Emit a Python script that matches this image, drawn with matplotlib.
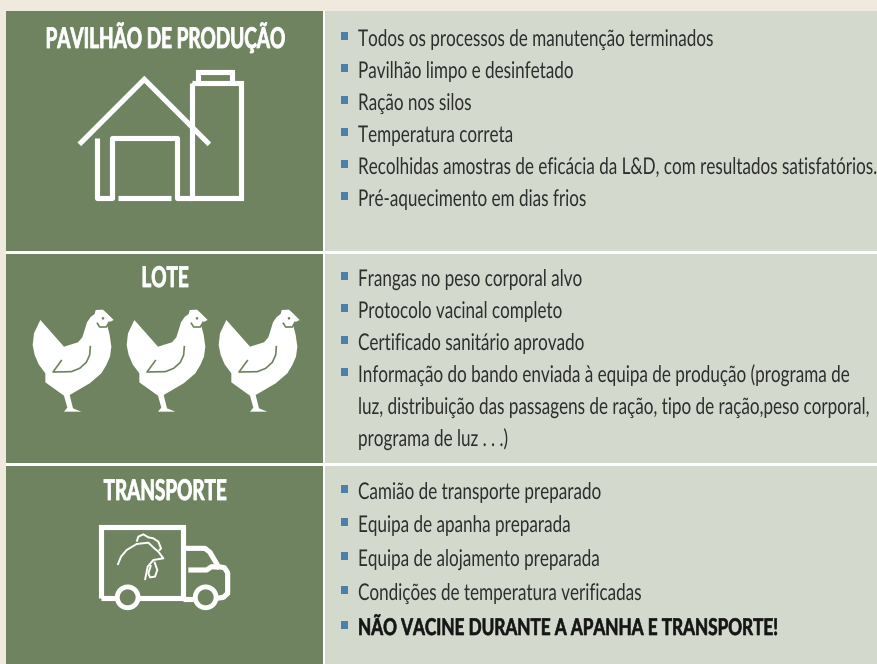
import matplotlib
matplotlib.use("Agg")
import matplotlib.pyplot as plt
from matplotlib.patches import Rectangle, Polygon, Circle
from matplotlib.patheffects import AbstractPathEffect
from matplotlib.text import Text
from matplotlib.transforms import Affine2D, Bbox

plt.rcParams["text.hinting"] = "none"

W, H = 878, 664
BG = "#f0e9de"; GREEN = "#6f8361"; PALE = "#d3d9cd"; BLUE = "#4a7fae"; INK = "#2e2e2e"

titles = ["PAVILHÃO DE PRODUÇÃO", "LOTE", "TRANSPORTE"]
items_shed = ["Todos os processos de manutenção terminados", "Pavilhão limpo e desinfetado",
              "Ração nos silos", "Temperatura correta",
              "Recolhidas amostras de eficácia da L&D, com resultados satisfatórios.",
              "Pré-aquecimento em dias frios"]
items_flock = ["Frangas no peso corporal alvo", "Protocolo vacinal completo",
               "Certificado sanitário aprovado",
               "Informação do bando enviada à equipa de produção (programa de"]
items_flock_cont = ["luz, distribuição das passagens de ração, tipo de ração,peso corporal,",
                    "programa de luz . . .)"]
items_truck = ["Camião de transporte preparado", "Equipa de apanha preparada",
               "Equipa de alojamento preparada", "Condições de temperatura verificadas"]
item_warning = "NÃO VACINE DURANTE A APANHA E TRANSPORTE!"

FONT = "Lato"

fig = plt.figure(figsize=(W/100, H/100), dpi=100, facecolor=BG)
ax = fig.add_axes([0, 0, 1, 1]); ax.set_xlim(0, W); ax.set_ylim(H, 0); ax.axis("off")


class Tall(AbstractPathEffect):
    """Stretch glyph outlines vertically about the baseline, giving a condensed face."""
    def __init__(self, sy, grow=0.0):
        super().__init__()
        self.sy = sy
        self.grow = grow
    def draw_path(self, renderer, gc, tpath, affine, rgbFace=None):
        gc0 = renderer.new_gc()
        gc0.copy_properties(gc)
        if self.grow and rgbFace is not None:
            gc0.set_linewidth(self.grow)
            gc0.set_foreground(rgbFace)
        renderer.draw_path(gc0, tpath, Affine2D().scale(1, self.sy) + affine, rgbFace)
        gc0.restore()


class TallText(Text):
    """Real text drawn condensed; its extent reports the stretched height."""
    def __init__(self, x, y, s, sy, grow=0.0, **kw):
        super().__init__(x, y, s, va="baseline", **kw)
        self.sy = sy
        self.set_path_effects([Tall(sy, grow)])
    def get_window_extent(self, renderer=None, dpi=None):
        b = super().get_window_extent(renderer, dpi)
        base = self.get_transform().transform(self.get_position())[1]
        return Bbox.from_extents(b.x0, base - (base - b.y0) * self.sy, b.x1, base + (b.y1 - base) * self.sy)


def natural_width(s, size, weight):
    t = Text(0, 0, s, fontsize=size, family=FONT, fontweight=weight)
    t.set_figure(fig)
    return t.get_window_extent(fig.canvas.get_renderer()).width


BODY = 16.6
HEAD = 20.5
BODY_W = "normal"
BOLD_W = "bold"
SX_BODY = 518 / natural_width(items_shed[4], BODY, BODY_W)
SX_BOLD = 419 / natural_width(item_warning, BODY, BOLD_W)
SX_HEAD = 240 / natural_width(titles[0], HEAD, BOLD_W)


def put(x, y, s, sx, size, color, weight="normal", ha="left", grow=0.0):
    ax.add_artist(TallText(x, y, s, 1 / sx, grow=grow, color=color, fontsize=size * sx, family=FONT,
                           fontweight=weight, ha=ha, zorder=5, transform=ax.transData))


def rect(x0, y0, x1, y1, c, z=1):
    ax.add_patch(Rectangle((x0, y0), x1-x0, y1-y0, fc=c, ec="none", zorder=z))


rect(6.5, 11, 323, H, GREEN); rect(325.5, 11, W, H, PALE)
rect(323, 11, 325.5, H, "white", 2)
rect(6.5, 251, W, 254, "white", 2); rect(6.5, 463, W, 466, "white", 2)

for t, yb in zip(titles, [48, 287, 500]):
    put(165, yb, t, SX_HEAD, HEAD, "white", BOLD_W, ha="center", grow=0.6)


def line(y, s, bold=False, bullet=True):
    if bullet:
        rect(341, y-14, 348.5, y-6.5, BLUE, 3)
    if bold:
        put(358, y, s, SX_BOLD, BODY, "#151515", BOLD_W, grow=0.45)
    else:
        put(358, y, s, SX_BODY, BODY, INK)


for s, y in zip(items_shed, [46, 78, 110, 142, 174, 206]):
    line(y, s)
for s, y in zip(items_flock, [286, 318, 350, 382]):
    line(y, s)
for s, y in zip(items_flock_cont, [414, 446]):
    line(y, s, bullet=False)
for s, y in zip(items_truck, [499, 532, 566, 600]):
    line(y, s)
line(635, item_warning, bold=True)


# icons: outlines traced in 3x crop coordinates
def stroke(pts, ox=0, oy=0, lw=3.7, join="miter"):
    xs = [ox+p[0]/3 for p in pts]; ys = [oy+p[1]/3 for p in pts]
    ax.plot(xs, ys, color="white", lw=lw, solid_joinstyle=join, solid_capstyle="butt", zorder=4)


# shed
stroke([(238,433),(433,238),(628,433)])
stroke([(292,415),(292,594),(335,594),(335,415),(532,415),(532,594),(575,594)], join="round")
stroke([(355,594),(513,594)])
stroke([(575,250),(722,250),(722,594),(575,594),(575,250)])
stroke([(593,245),(593,215),(696,215),(696,245)])

# hens
hen = [(37,45),(108,125),(150,112),(163,97),(170,75),(177,52),(188,36),(200,27),(203,15),(225,14),(238,26),
       (257,45),(243,52),(238,62),(245,90),(250,125),(246,155),(235,180),(220,205),(185,235),(125,270),
       (135,310),(160,320),(108,320),(118,308),(108,272),(52,232),(52,205),(32,178),(20,150),(14,120),(18,85)]
wing = [(187,125),(185,150),(175,172),(155,190),(130,200),(75,201),(100,167)]
neck = [(208,55),(215,66),(235,66),(243,52)]
for dx in [0, 94, 186]:
    ox, oy = 28 + dx, 305
    ax.add_patch(Polygon([(ox+p[0]/3, oy+p[1]/3) for p in hen], fc="white", ec="none", zorder=4))
    for part in (wing, neck):
        ax.plot([ox+p[0]/3 for p in part], [oy+p[1]/3 for p in part], color=GREEN, lw=1.2, zorder=5)
    ax.add_patch(Circle((ox+225/3, oy+40/3), 1.3, fc=GREEN, ec="none", zorder=5))

# truck
ox, oy = 95, 520
stroke([(19,233),(19,21),(265,21),(265,233),(19,233)], ox, oy)
stroke([(272,85),(330,85),(345,97),(370,140),(388,143),(398,158),(398,220),(385,232),(365,235)], ox, oy, join="round")
stroke([(280,150),(335,150),(350,140),(372,142)], ox, oy, join="round")
stroke([(265,238),(295,238)], ox, oy)
for cx in (98, 332):
    ax.add_patch(Circle((ox+cx/3, oy+232/3), 10.4, fc=GREEN, ec="white", lw=3.5, zorder=5))
ckw = dict(ox=ox, oy=oy, lw=1.4, join="round")
stroke([(68,135),(78,110),(95,90),(125,72),(160,68),(178,85),(190,95),(205,115),(175,120),(158,140),(150,180)], **ckw)
stroke([(125,65),(130,50),(145,43),(160,52),(175,55),(190,65),(198,85),(192,92)], **ckw)
stroke([(178,125),(187,150),(180,170),(165,172),(160,160),(168,135)], **ckw)

fig.savefig("out.png", dpi=100, facecolor=BG)
